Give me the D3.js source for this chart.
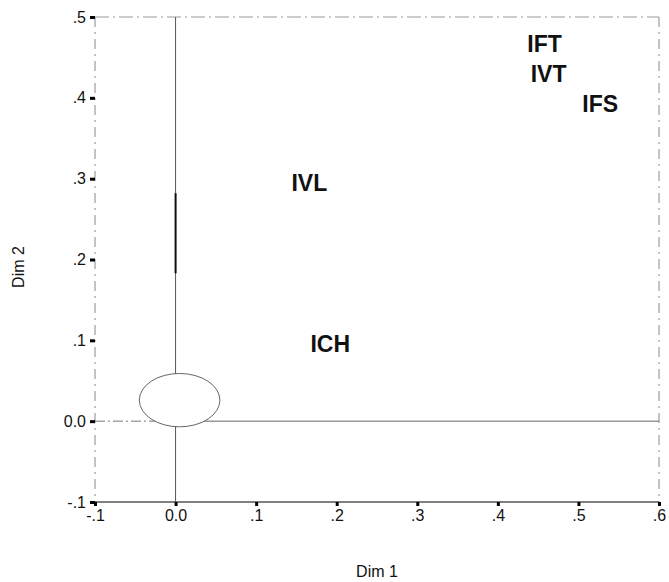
<!DOCTYPE html>
<html><head><meta charset="utf-8">
<script src="https://cdn.jsdelivr.net/npm/d3@7"></script>
<style>body{margin:0;background:#fff}svg{display:block}</style>
</head><body>
<script>
const labels = ["IFT","IVT","IFS","IVL","ICH"];
const dim1 = [0.458, 0.463, 0.527, 0.166, 0.192];
const dim2 = [0.467, 0.430, 0.392, 0.295, 0.096];
const ellipseCenter = [0.005, 0.026];
const ellipseRadii = [0.05, 0.033];
const xTicks = [-0.1,0,0.1,0.2,0.3,0.4,0.5,0.6];
const xTickLabels = ["-.1","0.0",".1",".2",".3",".4",".5",".6"];
const yTicks = [-0.1,0,0.1,0.2,0.3,0.4,0.5];
const yTickLabels = ["-.1","0.0",".1",".2",".3",".4",".5"];

const W=669,H=582, m={l:95,t:17,r:10,b:80};
const svg=d3.select("body").append("svg").attr("width",W).attr("height",H);
const x=d3.scaleLinear().domain([-0.1,0.6]).range([m.l,W-m.r]);
const y=d3.scaleLinear().domain([-0.1,0.5]).range([H-m.b,m.t]);
const font="Liberation Sans, Arial, sans-serif";

// frame
const g=svg.append("g");
g.append("line").attr("x1",x(-0.1)).attr("x2",x(0.6)).attr("y1",y(0.5)).attr("y2",y(0.5))
 .attr("stroke","#999").attr("stroke-width",1).attr("stroke-dasharray","14,4,2,4");
g.append("line").attr("x1",x(-0.1)).attr("x2",x(-0.1)).attr("y1",y(0.5)).attr("y2",y(-0.1))
 .attr("stroke","#888").attr("stroke-width",1).attr("stroke-dasharray","10,5,2,5");
g.append("line").attr("x1",x(0.6)).attr("x2",x(0.6)).attr("y1",y(0.5)).attr("y2",y(-0.1))
 .attr("stroke","#888").attr("stroke-width",1).attr("stroke-dasharray","10,5,2,5");
g.append("line").attr("x1",x(-0.1)).attr("x2",x(0.6)).attr("y1",y(-0.1)).attr("y2",y(-0.1))
 .attr("stroke","#555").attr("stroke-width",1.3);

// zero reference lines
g.append("line").attr("x1",x(-0.1)).attr("x2",x(0)).attr("y1",y(0)).attr("y2",y(0))
 .attr("stroke","#777").attr("stroke-width",1).attr("stroke-dasharray","10,3,2,3");
g.append("line").attr("x1",x(0)).attr("x2",x(0.6)).attr("y1",y(0)).attr("y2",y(0))
 .attr("stroke","#666").attr("stroke-width",1);
g.append("line").attr("x1",x(0)).attr("x2",x(0)).attr("y1",y(0.5)).attr("y2",y(-0.1))
 .attr("stroke","#555").attr("stroke-width",1);
g.append("line").attr("x1",x(0)).attr("x2",x(0)).attr("y1",y(0.282)).attr("y2",y(0.183))
 .attr("stroke","#111").attr("stroke-width",2);

// ellipse
g.append("ellipse")
 .attr("cx",x(ellipseCenter[0])).attr("cy",y(ellipseCenter[1]))
 .attr("rx",x(ellipseRadii[0])-x(0)).attr("ry",y(0)-y(ellipseRadii[1]))
 .attr("fill","#fff").attr("stroke","#666").attr("stroke-width",1);

// axes
const xAxis=d3.axisBottom(x).tickValues(xTicks).tickFormat((d,i)=>xTickLabels[i]).tickSize(4).tickPadding(4);
const ax=svg.append("g").attr("transform",`translate(0,${y(-0.1)})`).call(xAxis);
ax.select(".domain").remove();
ax.selectAll(".tick line").attr("stroke","#000").attr("stroke-width",3);
ax.selectAll(".tick text").attr("font-family",font).attr("font-size",16).attr("fill","#111");

const yAxis=d3.axisLeft(y).tickValues(yTicks).tickFormat((d,i)=>yTickLabels[i]).tickSize(5).tickPadding(4);
const ay=svg.append("g").attr("transform",`translate(${x(-0.1)},0)`).call(yAxis);
ay.select(".domain").remove();
ay.selectAll(".tick line").attr("stroke","#000").attr("stroke-width",3);
ay.selectAll(".tick text").attr("font-family",font).attr("font-size",16).attr("fill","#111");

// axis titles
svg.append("text").attr("x",(x(-0.1)+x(0.6))/2).attr("y",577).attr("text-anchor","middle")
 .attr("font-family",font).attr("font-size",16).attr("fill","#111").text("Dim 1");
svg.append("text").attr("transform",`translate(24,${267}) rotate(-90)`).attr("text-anchor","middle")
 .attr("font-family",font).attr("font-size",16).attr("fill","#111").text("Dim 2");

// point labels
svg.append("g").selectAll("text").data(labels).join("text")
 .attr("x",(d,i)=>x(dim1[i])).attr("y",(d,i)=>y(dim2[i]))
 .attr("text-anchor","middle").attr("dominant-baseline","central")
 .attr("font-family",font).attr("font-weight","bold").attr("font-size",23).attr("fill","#111")
 .text(d=>d);
</script>
</body></html>
